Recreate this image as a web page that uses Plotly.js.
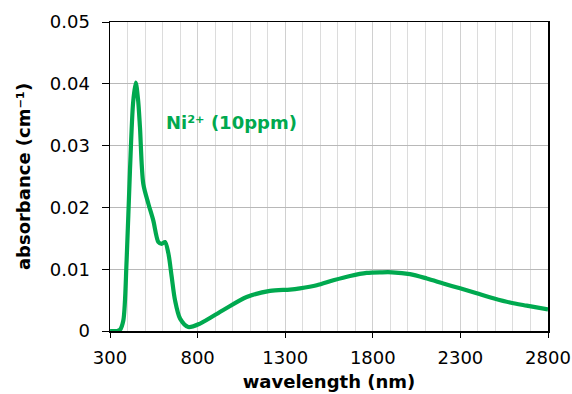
<!DOCTYPE html>
<html>
<head>
<meta charset="utf-8">
<script src="https://cdn.plot.ly/plotly-3.0.1.min.js"></script>
<style>
  html, body { margin: 0; padding: 0; background: #fff; }
  #chart { width: 572px; height: 394px; }
</style>
</head>
<body>
<div id="chart"></div>
<script>
// Absorption spectrum of Ni2+ (10 ppm)
const wavelengthNm = [300, 340, 357, 376, 395, 414, 432, 447, 460, 471, 490, 519, 547, 576, 595, 614, 633, 652, 671, 700, 747, 814, 947, 1080, 1213, 1327, 1384, 1480, 1575, 1670, 1765, 1850, 1910, 2012, 2108, 2202, 2298, 2393, 2488, 2583, 2678, 2800];
const absorbance = [0, 0, 0.0002, 0.0017, 0.0115, 0.026, 0.037, 0.0402, 0.0375, 0.033, 0.0238, 0.0206, 0.0179, 0.0144, 0.0141, 0.0144, 0.0126, 0.0088, 0.005, 0.002, 0.00065, 0.0012, 0.0034, 0.0055, 0.0065, 0.0067, 0.0069, 0.0074, 0.0082, 0.0089, 0.0094, 0.0095, 0.0095, 0.0092, 0.0085, 0.0077, 0.0069, 0.0061, 0.0053, 0.0046, 0.0041, 0.0035];
const xTickValues = [300, 800, 1300, 1800, 2300, 2800];
const yTickValues = [0, 0.01, 0.02, 0.03, 0.04, 0.05];
const yTickLabels = ['0', '0.01', '0.02', '0.03', '0.04', '0.05'];
const seriesLabel = 'Ni²⁺ (10ppm)';

const green = '#00A94F';
const font = 'DejaVu Sans, Verdana, sans-serif';

const trace = {
  x: wavelengthNm,
  y: absorbance,
  type: 'scatter',
  mode: 'lines',
  line: { color: green, width: 4.2, shape: 'spline', smoothing: 0.8 },
  hoverinfo: 'skip'
};

const layout = {
  width: 572,
  height: 394,
  margin: { l: 110, r: 24, t: 22, b: 63 },
  paper_bgcolor: '#fff',
  plot_bgcolor: '#fff',
  showlegend: false,
  font: { family: font, color: '#000', size: 18 },
  xaxis: {
    range: [300, 2800],
    tickmode: 'array',
    tickvals: xTickValues,
    ticktext: xTickValues.map(String),
    ticks: 'outside',
    ticklen: 5,
    tickcolor: '#000',
    tickwidth: 1,
    ticklabelstandoff: 5,
    showline: true,
    linecolor: '#000',
    linewidth: 1.5,
    mirror: true,
    showgrid: true,
    gridcolor: '#d0d0d0',
    gridwidth: 1,
    minor: { tick0: 300, dtick: 100, showgrid: true, gridcolor: '#dcdcdc', gridwidth: 1, ticks: '' },
    zeroline: false,
    tickfont: { family: font, size: 18, color: '#000' },
    title: { text: 'wavelength (nm)', font: { family: font, size: 18, color: '#000', weight: 'bold' }, standoff: 8 }
  },
  yaxis: {
    range: [0, 0.05],
    tickmode: 'array',
    tickvals: yTickValues,
    ticktext: yTickLabels,
    ticks: 'outside',
    ticklen: 7,
    tickcolor: '#000',
    tickwidth: 1,
    ticklabelstandoff: 8,
    showline: true,
    linecolor: '#000',
    linewidth: 1.5,
    mirror: true,
    showgrid: true,
    gridcolor: '#b8b8b8',
    gridwidth: 1,
    zeroline: false,
    tickfont: { family: font, size: 18, color: '#000' },
    title: { text: 'absorbance (cm⁻¹)', font: { family: font, size: 18, color: '#000', weight: 'bold' }, standoff: 14 }
  },
  annotations: [{
    x: 610, y: 0.0337, xref: 'x', yref: 'y', xanchor: 'left',
    text: seriesLabel,
    showarrow: false,
    font: { family: font, size: 18, color: green, weight: 'bold' }
  }]
};

Plotly.newPlot('chart', [trace], layout, { staticPlot: true, displayModeBar: false });
</script>
</body>
</html>
